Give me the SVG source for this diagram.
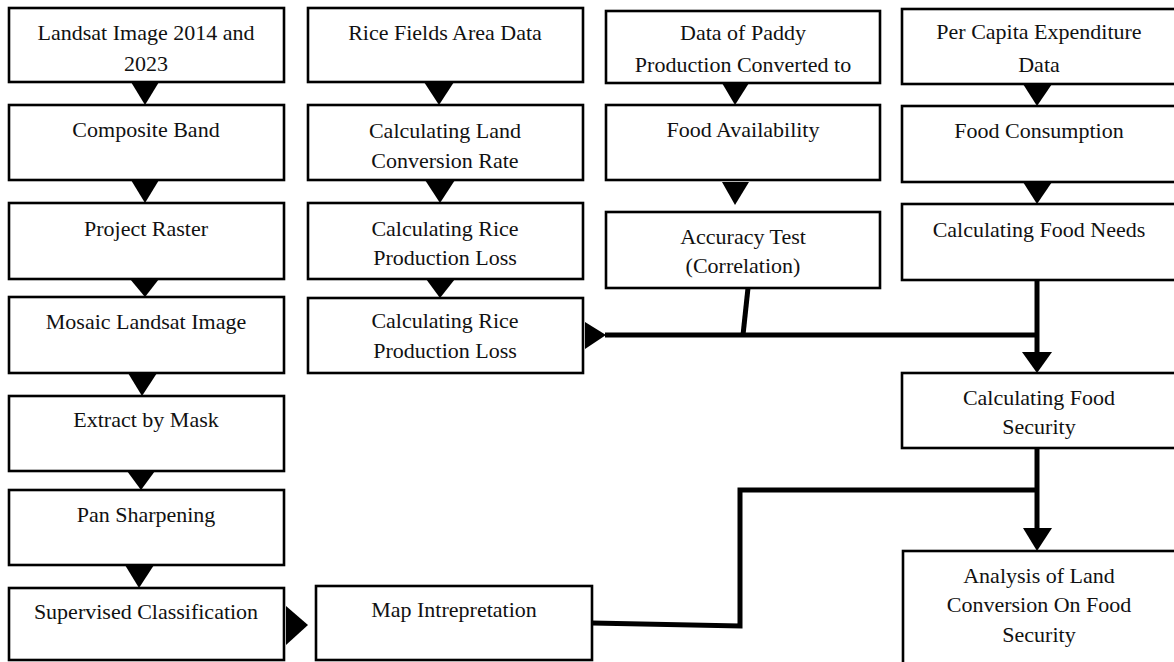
<svg xmlns="http://www.w3.org/2000/svg" width="1174" height="662" viewBox="0 0 1174 662">
<style>
.box{fill:#fff;stroke:#000;stroke-width:2.6}
.t{font-family:"Liberation Serif","DejaVu Serif",serif;font-size:22px;fill:#111;text-anchor:middle}
.ah{fill:#000}
.ln{fill:none;stroke:#000;stroke-width:5;stroke-linejoin:miter}
</style>
<rect width="1174" height="662" fill="#fff"/>
<g id="n1"><rect class="box" x="9" y="8" width="275" height="74"/><text class="t" x="146" y="40">Landsat Image 2014 and</text><text class="t" x="146" y="71">2023</text></g>
<g id="n2"><rect class="box" x="9" y="105" width="275" height="75"/><text class="t" x="146" y="137">Composite Band</text></g>
<g id="n3"><rect class="box" x="9" y="203" width="275" height="76"/><text class="t" x="146" y="236">Project Raster</text></g>
<g id="n4"><rect class="box" x="9" y="297" width="275" height="76"/><text class="t" x="146" y="329">Mosaic Landsat Image</text></g>
<g id="n5"><rect class="box" x="9" y="396" width="275" height="75"/><text class="t" x="146" y="427">Extract by Mask</text></g>
<g id="n6"><rect class="box" x="9" y="490" width="275" height="75"/><text class="t" x="146" y="522">Pan Sharpening</text></g>
<g id="n7"><rect class="box" x="9" y="588" width="275" height="72"/><text class="t" x="146" y="619">Supervised Classification</text></g>
<g id="n8"><rect class="box" x="308" y="8" width="275" height="74"/><text class="t" x="445" y="40">Rice Fields Area Data</text></g>
<g id="n9"><rect class="box" x="308" y="105" width="275" height="75"/><text class="t" x="445" y="138">Calculating Land</text><text class="t" x="445" y="168">Conversion Rate</text></g>
<g id="n10"><rect class="box" x="308" y="203" width="275" height="76"/><text class="t" x="445" y="236">Calculating Rice</text><text class="t" x="445" y="265">Production Loss</text></g>
<g id="n11"><rect class="box" x="308" y="298" width="275" height="75"/><text class="t" x="445" y="328">Calculating Rice</text><text class="t" x="445" y="358">Production Loss</text></g>
<g id="n12"><rect class="box" x="316" y="586" width="276" height="74"/><text class="t" x="454" y="617">Map Intrepretation</text></g>
<g id="n13"><rect class="box" x="606" y="11" width="274" height="72"/><text class="t" x="743" y="40">Data of Paddy</text><text class="t" x="743" y="72">Production Converted to</text></g>
<g id="n14"><rect class="box" x="606" y="105" width="274" height="75"/><text class="t" x="743" y="137">Food Availability</text></g>
<g id="n15"><rect class="box" x="606" y="212" width="274" height="76"/><text class="t" x="743" y="244">Accuracy Test</text><text class="t" x="743" y="273">(Correlation)</text></g>
<g id="n16"><rect class="box" x="902" y="9" width="275" height="75"/><text class="t" x="1039" y="39">Per Capita Expenditure</text><text class="t" x="1039" y="72">Data</text></g>
<g id="n17"><rect class="box" x="902" y="106" width="275" height="76"/><text class="t" x="1039" y="138">Food Consumption</text></g>
<g id="n18"><rect class="box" x="902" y="204" width="275" height="76"/><text class="t" x="1039" y="237">Calculating Food Needs</text></g>
<g id="n19"><rect class="box" x="902" y="373" width="275" height="75"/><text class="t" x="1039" y="405">Calculating Food</text><text class="t" x="1039" y="434">Security</text></g>
<g id="n20"><rect class="box" x="903" y="551" width="275" height="115"/><text class="t" x="1039" y="583">Analysis of Land</text><text class="t" x="1039" y="612">Conversion On Food</text><text class="t" x="1039" y="642">Security</text></g>
<g id="connectors">
<polygon class="ah" points="131,82 159,82 145,105"/>
<polygon class="ah" points="131,180 159,180 145,203"/>
<polygon class="ah" points="130,279 159,279 145,297"/>
<polygon class="ah" points="128,373 157,373 142,396"/>
<polygon class="ah" points="127,471 155,471 141,490"/>
<polygon class="ah" points="125,565 154,565 139,588"/>
<polygon class="ah" points="424,82 454,82 439,105"/>
<polygon class="ah" points="425,180 455,180 440,203"/>
<polygon class="ah" points="426,279 455,279 440,298"/>
<polygon class="ah" points="722,83 749,83 735,105"/>
<polygon class="ah" points="722,182 749,182 735,205"/>
<polygon class="ah" points="1023,84 1052,84 1037,106"/>
<polygon class="ah" points="1023,182 1052,182 1037,204"/>
<polyline class="ln" points="605,335 1037,335"/>
<polygon class="ah" points="585,322 585,349 606,335"/>
<polyline class="ln" points="748,288 743,335"/>
<polyline class="ln" points="1037,280 1037,352"/>
<polygon class="ah" points="1022,352 1052,352 1037,373"/>
<polyline class="ln" points="1037,448 1037,529"/>
<polygon class="ah" points="1023,528 1052,528 1037,551"/>
<polyline class="ln" points="592,623 740,626 740,490 1037,490"/>
<polygon class="ah" points="286,606 286,645 308,625"/>
</g>
</svg>
